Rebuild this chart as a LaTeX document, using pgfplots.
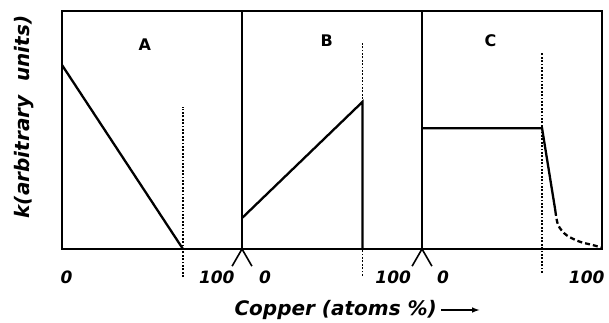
\documentclass[border=0pt]{standalone}
\usepackage{fontspec}
\setmainfont{DejaVu Sans}
\usepackage{pgfplots}
\pgfplotsset{compat=1.18}
\begin{document}
\begin{tikzpicture}
\path[use as bounding box] (0pt,0pt) rectangle (609pt,322pt);
\tikzset{tickl/.style={font=\bfseries\itshape\fontsize{17}{20}\selectfont},
  pan/.style={font=\bfseries\fontsize{16}{18}\selectfont}}
\pgfplotsset{panel/.style={scale only axis, width=180pt, height=238pt, anchor=south west,
  xmin=0, xmax=100, ymin=0, ymax=100, xtick=\empty, ytick=\empty,
  axis line style={line width=1.8pt}, clip=false},
  curve/.style={black, line width=2.3pt, no marks},
  vdot/.style={black, line width=1.6pt, dash pattern=on 1.8pt off 1.6pt, no marks},
  vee/.style={black, line width=1.6pt, no marks}}
% Panel A
\begin{axis}[panel, at={(62pt,73pt)}]
\addplot[curve] coordinates {(0,77.3) (67.2,0)};
\addplot[vdot] coordinates {(67.2,-11.8) (67.2,59.7)};
\addplot[vee] coordinates {(94.5,-7.2) (100,0) (105.5,-7.2)};
\node[tickl] at (axis cs:2.5,-12) {0};
\node[tickl] at (axis cs:86,-12) {100};
\node[pan] at (axis cs:46,86) {A};
\end{axis}
% Panel B
\begin{axis}[panel, at={(242pt,73pt)}]
\addplot[vdot] coordinates {(66.9,-11.3) (66.9,86.6)};
\addplot[curve] coordinates {(0,13) (66.9,61.8) (66.9,0)};
\addplot[vee] coordinates {(94.5,-7.2) (100,0) (105.5,-7.2)};
\node[tickl] at (axis cs:12.8,-12) {0};
\node[tickl] at (axis cs:84,-12) {100};
\node[pan] at (axis cs:47,87.5) {B};
\end{axis}
% Panel C
\begin{axis}[panel, at={(422pt,73pt)}]
\addplot[vdot] coordinates {(66.7,-10) (66.7,82.4)};
\addplot[curve] coordinates {(0,50.7) (66.7,50.7) (74.1,16)};
\addplot[black, line width=2.3pt, dash pattern=on 5pt off 3pt, smooth, no marks] coordinates {(74.1,16) (75.6,10.1) (80.1,5.9) (87.5,3.1) (94.7,1.7) (99.7,0.6)};
\node[tickl] at (axis cs:11.7,-12) {0};
\node[tickl] at (axis cs:91.5,-12) {100};
\node[pan] at (axis cs:38,87.5) {C};
\end{axis}
\node[rotate=90, font=\bfseries\itshape\fontsize{20}{22}\selectfont] at (24pt,205pt) {k(arbitrary\ \ units)};
\node[anchor=west, font=\bfseries\itshape\fontsize{20}{22}\selectfont] (xl) at (231pt,12pt) {Copper (atoms \%)};
\draw[-latex, line width=1.5pt] ([xshift=1pt]xl.east) -- ++(38pt,0);
\end{tikzpicture}
\end{document}
